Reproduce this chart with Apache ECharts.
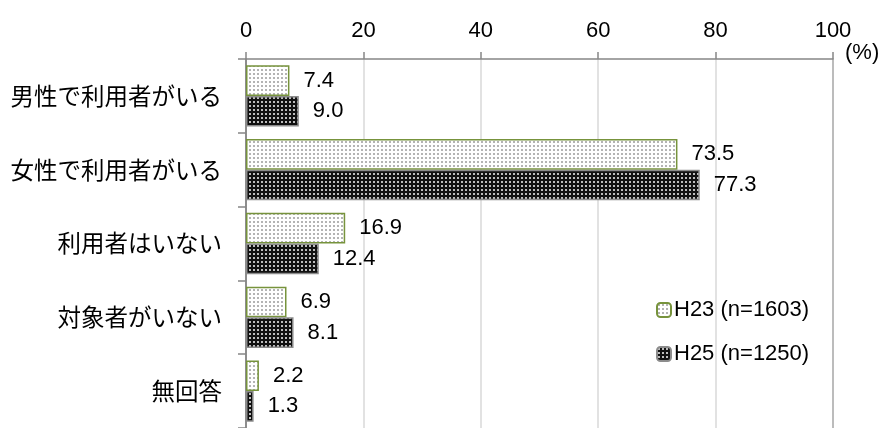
<!DOCTYPE html>
<html>
<head>
<meta charset="utf-8">
<script src="https://cdn.jsdelivr.net/npm/echarts@6/dist/echarts.min.js"></script>
<style>
  html, body { margin: 0; padding: 0; background: #fff; }
  #chart { width: 883px; height: 428px; }
</style>
</head>
<body>
<div id="chart"></div>
<script>
// Survey answers (percent)
const categories = ['男性で利用者がいる', '女性で利用者がいる', '利用者はいない', '対象者がいない', '無回答'];
const seriesNames = ['H23 (n=1603)', 'H25 (n=1250)'];
const valuesH23 = [7.4, 73.5, 16.9, 6.9, 2.2];
const valuesH25 = [9.0, 77.3, 12.4, 8.1, 1.3];
const xTicks = [0, 20, 40, 60, 80, 100];

const LABEL_FONT = '"Liberation Sans", "Noto Sans", sans-serif';
const JP_FONT = '"Noto Sans CJK JP", sans-serif';

// Small tiled dot patterns used as bar fills
function dotPattern(bg, dot, size, dotSize) {
  const c = document.createElement('canvas');
  c.width = size; c.height = size;
  const ctx = c.getContext('2d');
  ctx.fillStyle = bg;
  ctx.fillRect(0, 0, size, size);
  ctx.fillStyle = dot;
  ctx.fillRect(1, 1, dotSize, dotSize);
  return c;
}
const lightFill = { image: dotPattern('#ffffff', '#b4b4b4', 4, 2), repeat: 'repeat' };
const darkFill = { image: dotPattern('#111111', '#bdbdbd', 4, 2), repeat: 'repeat' };

const chart = echarts.init(document.getElementById('chart'));

const labelCfg = {
  show: true,
  position: 'right',
  distance: 14,
  color: '#000',
  fontFamily: LABEL_FONT,
  fontSize: 22,
  formatter: p => p.value.toFixed(1)
};

chart.setOption({
  animation: false,
  backgroundColor: '#fff',
  grid: { left: 246, right: 50, top: 59, bottom: -6, containLabel: false },
  legend: {
    orient: 'vertical',
    left: 651,
    top: 294,
    itemWidth: 14,
    itemHeight: 14,
    itemGap: 22,
    textStyle: { color: '#000', fontFamily: LABEL_FONT, fontSize: 22, padding: [0, 0, 0, -2] },
    data: seriesNames
  },
  xAxis: {
    type: 'value',
    position: 'top',
    min: xTicks[0],
    max: xTicks[xTicks.length - 1],
    interval: 20,
    axisLine: { show: true, lineStyle: { color: '#868686', width: 1.5 } },
    axisTick: { show: true, inside: false, length: 7, lineStyle: { color: '#868686', width: 1.5 } },
    axisLabel: { color: '#000', fontFamily: LABEL_FONT, fontSize: 22, margin: 17 },
    splitLine: {
      show: true,
      lineStyle: { color: ['#868686', '#d9d9d9', '#d9d9d9', '#d9d9d9', '#d9d9d9', '#a6a6a6'], width: 1.5 }
    }
  },
  yAxis: {
    type: 'category',
    inverse: true,
    data: categories,
    axisLine: { show: true, lineStyle: { color: '#868686', width: 1.5 } },
    axisTick: { show: true, length: 8, lineStyle: { color: '#868686', width: 1.5 } },
    axisLabel: { color: '#000', fontFamily: JP_FONT, fontSize: 23.5, margin: 24 }
  },
  graphic: [{
    type: 'text',
    left: 845,
    top: 42,
    style: { text: '(%)', fill: '#000', font: '22px ' + LABEL_FONT }
  }],
  series: [
    {
      name: seriesNames[0],
      type: 'bar',
      data: valuesH23,
      barGap: '0%',
      barCategoryGap: '17%',
      itemStyle: { color: lightFill, borderColor: '#77933c', borderWidth: 1.5 },
      label: labelCfg
    },
    {
      name: seriesNames[1],
      type: 'bar',
      data: valuesH25,
      barGap: '0%',
      barCategoryGap: '17%',
      itemStyle: { color: darkFill, borderColor: '#8c8c8c', borderWidth: 1.5 },
      label: labelCfg
    }
  ]
});
</script>
</body>
</html>
